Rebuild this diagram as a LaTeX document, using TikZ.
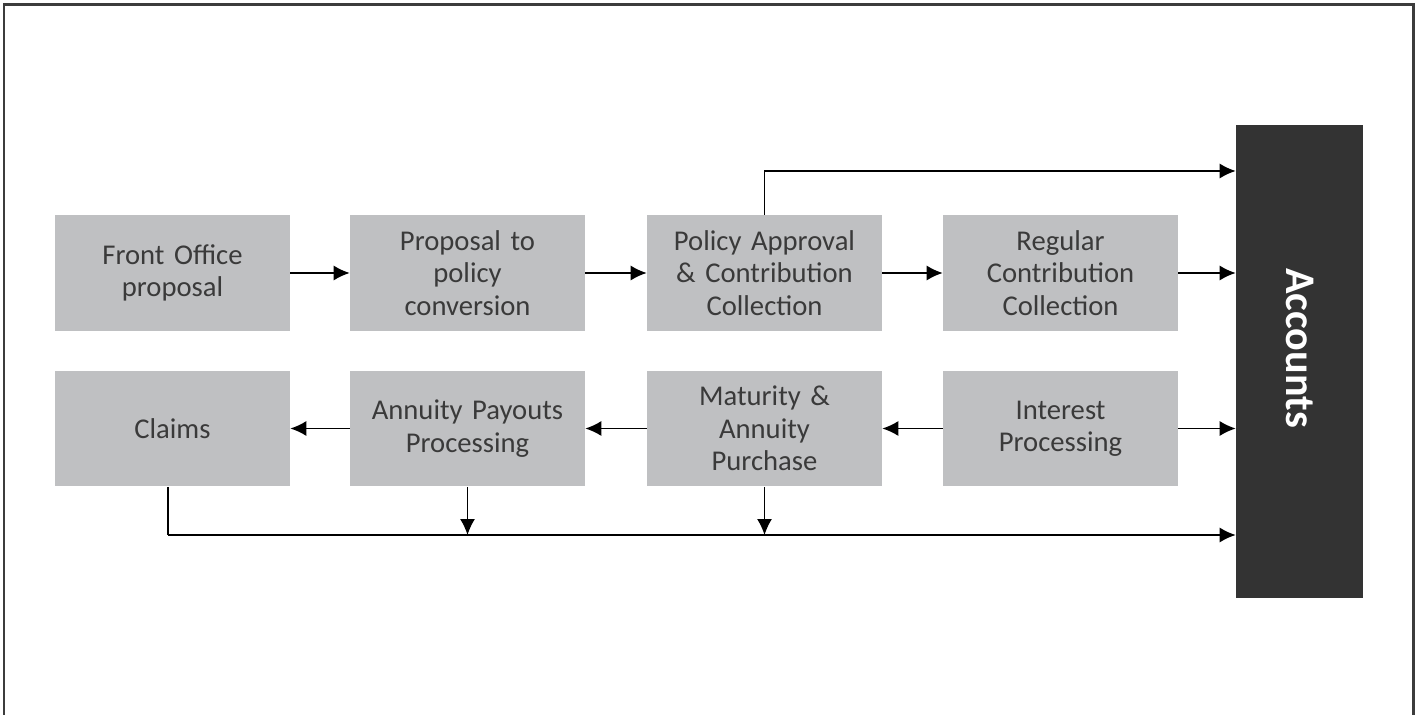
\documentclass[tikz,border=0pt]{standalone}
\usepackage{fontspec}
\setmainfont{Carlito}
\usetikzlibrary{arrows.meta}
\usetikzlibrary{shapes}

\definecolor{boxgray}{HTML}{BFC0C2}
\definecolor{txtgray}{HTML}{3A3A3A}
\definecolor{accdark}{HTML}{333333}
\definecolor{framegray}{HTML}{3C3C3C}

\newcommand{\boxfont}{\fontsize{16.3}{18.4}\selectfont\spaceskip=0.17em\relax}

\tikzset{
  stepbox/.style={rectangle,fill=boxgray,inner sep=0pt,text width=4.7cm,minimum height=2.32cm,text=txtgray,font=\boxfont},
  flow/.style={draw=black,line width=0.8pt,-{Latex[length=3.2mm,width=3mm]}},
  wire/.style={draw=black,line width=0.8pt}
}

\begin{document}
\begin{tikzpicture}[x=0.02cm,y=-0.02cm]
\useasboundingbox (0,0) rectangle (1422,715);
\draw[framegray,line width=1.7pt] (4,715) -- (4,5) -- (1413,5) -- (1413,715);

\node(A) at (172.5,273) [stepbox]{\centerline{Front Office} \centerline{proposal}};
\node(B) at (467.5,273) [stepbox]{\centerline{Proposal to} \centerline{policy} \centerline{conversion}};
\node(C) at (764.5,273) [stepbox]{\centerline{Policy Approval} \centerline{\& Contribution} \centerline{Collection}};
\node(D) at (1060.5,273) [stepbox]{\centerline{Regular} \centerline{Contribution} \centerline{Collection}};

\node(E) at (172.5,428.5) [stepbox]{\centerline{Claims}};
\node(F) at (467.5,428.5) [stepbox]{\centerline{Annuity Payouts} \centerline{Processing}};
\node(G) at (764.5,428.5) [stepbox]{\centerline{Maturity \&} \centerline{Annuity} \centerline{Purchase}};
\node(H) at (1060.5,428.5) [stepbox]{\centerline{Interest} \centerline{Processing}};

\node(Acc) at (1299.5,361.5) [rectangle,fill=accdark,inner sep=0pt,minimum width=2.54cm,minimum height=9.46cm]{};
\node(AccText) at (1299.5,348) [rotate=-90,text=white,font=\fontsize{24}{28}\selectfont\bfseries]{Accounts};

\coordinate(top) at (764.5,171);
\coordinate(bottom) at (168,535);

\draw[flow] (A.east) -- (B.west);
\draw[flow] (B.east) -- (C.west);
\draw[flow] (C.east) -- (D.west);
\draw[flow] (D.east) -- (Acc.west |- D.east);
\draw[flow] (C.north) |- (Acc.west |- top);

\draw[flow] (H.west) -- (G.east);
\draw[flow] (G.west) -- (F.east);
\draw[flow] (F.west) -- (E.east);
\draw[flow] (H.east) -- (Acc.west |- H.east);

\draw[wire] (E.south -| bottom) -- (bottom);
\draw[flow] (bottom) -- (Acc.west |- bottom);
\draw[flow] (F.south) -- (F.south |- bottom);
\draw[flow] (G.south) -- (G.south |- bottom);
\end{tikzpicture}
\end{document}
